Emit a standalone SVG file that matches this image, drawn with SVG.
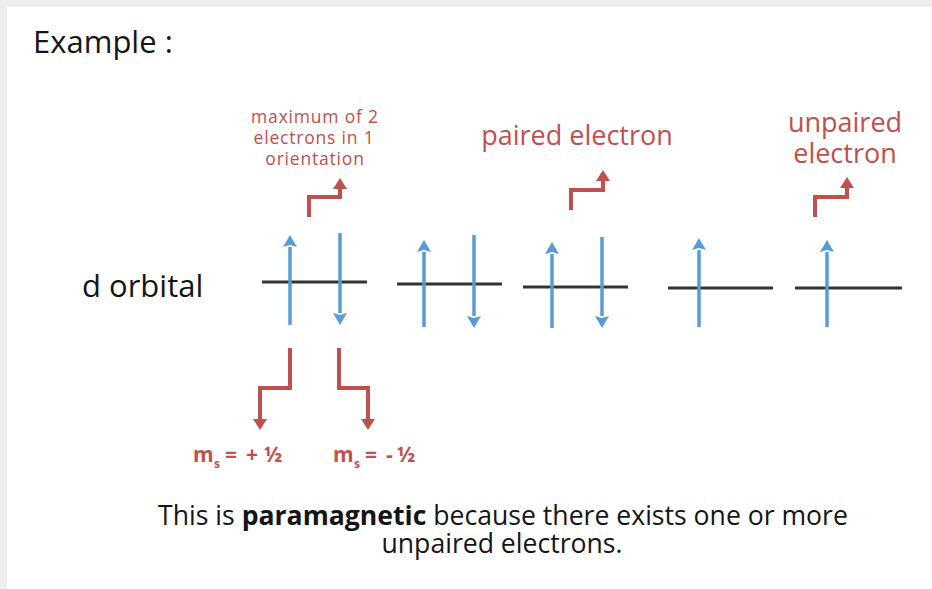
<svg xmlns="http://www.w3.org/2000/svg" width="932" height="589" viewBox="0 0 932 589">
<style>
.t{font-family:"Open Sans","Liberation Sans",sans-serif;fill:#151515}
.r{font-family:"Open Sans","Liberation Sans",sans-serif;fill:#c0504d}
.orb{stroke:#333;stroke-width:3;fill:none}
.e{stroke:#5b9bd5;stroke-width:3.5;fill:none;marker-end:url(#bh)}
.ra{stroke:#c0504d;stroke-width:4;fill:none;marker-end:url(#rh)}
</style>
<defs>
<marker id="bh" markerUnits="userSpaceOnUse" markerWidth="16" markerHeight="16" viewBox="0 -8 13 16" refX="0" refY="0" orient="auto">
<path d="M0,-7 L12,0 L0,7 L2,0 Z" fill="#5b9bd5"/>
</marker>
<marker id="rh" markerUnits="userSpaceOnUse" markerWidth="16" markerHeight="16" viewBox="0 -8 12 16" refX="0" refY="0" orient="auto">
<path d="M0,-7 L11,0 L0,7 Z" fill="#c0504d"/>
</marker>
</defs>
<rect x="0" y="0" width="932" height="589" fill="#eeeeee"/>
<rect x="7" y="7" width="925" height="582" fill="#ffffff"/>

<text class="t" x="33" y="53" font-size="31">Example :</text>

<g id="label-d-orbital"><text class="t" x="82" y="297" font-size="31">d orbital</text></g>

<g id="orbital1">
<line class="orb" x1="262" y1="282" x2="367" y2="282"/>
<path class="e" d="M290,325 V247"/>
<path class="e" d="M340,233 V313"/>
</g>
<g id="orbital2">
<line class="orb" x1="397" y1="284" x2="502" y2="284"/>
<path class="e" d="M424,327 V252"/>
<path class="e" d="M474,235 V316"/>
</g>
<g id="orbital3">
<line class="orb" x1="523" y1="287" x2="628" y2="287"/>
<path class="e" d="M552,328 V254"/>
<path class="e" d="M602,237 V316"/>
</g>
<g id="orbital4">
<line class="orb" x1="668" y1="288" x2="773" y2="288"/>
<path class="e" d="M699,327 V250"/>
</g>
<g id="orbital5">
<line class="orb" x1="795" y1="288" x2="902" y2="288"/>
<path class="e" d="M827,327 V252"/>
</g>

<g id="label-max">
<text class="r" font-size="17.5" letter-spacing="0.8" text-anchor="middle"><tspan x="315" y="123">maximum of 2</tspan><tspan x="314" y="144">electrons in 1</tspan><tspan x="315" y="165">orientation</tspan></text>
</g>
<g id="label-paired"><text class="r" x="577" y="145" font-size="27" text-anchor="middle">paired electron</text></g>
<g id="label-unpaired"><text class="r" font-size="27" text-anchor="middle"><tspan x="845" y="132">unpaired</tspan><tspan x="845" y="163">electron</tspan></text></g>

<g id="label-ms-plus"><text class="r" font-size="21" font-weight="bold" y="462"><tspan x="193">m</tspan><tspan x="214" y="468" font-size="12">s</tspan><tspan x="225" y="462">=</tspan><tspan x="246">+</tspan><tspan x="264">½</tspan></text></g>
<g id="label-ms-minus"><text class="r" font-size="21" font-weight="bold" y="462"><tspan x="333">m</tspan><tspan x="354" y="468" font-size="12">s</tspan><tspan x="365" y="462">=</tspan><tspan x="386">-</tspan><tspan x="397">½</tspan></text></g>

<g id="connectors">
<path class="ra" d="M309,217 V197 H340 V189"/>
<path class="ra" d="M571,210 V190 H603 V181"/>
<path class="ra" d="M815,217 V197 H847 V188"/>
<path class="ra" d="M290,348 V388 H260 V419"/>
<path class="ra" d="M339,348 V388 H368 V419"/>
</g>

<g id="caption">
<text class="t" font-size="26.6" text-anchor="middle"><tspan x="503" y="525">This is <tspan font-weight="bold">paramagnetic</tspan> because there exists one or more</tspan><tspan x="502" y="553">unpaired electrons.</tspan></text>
</g>
</svg>
